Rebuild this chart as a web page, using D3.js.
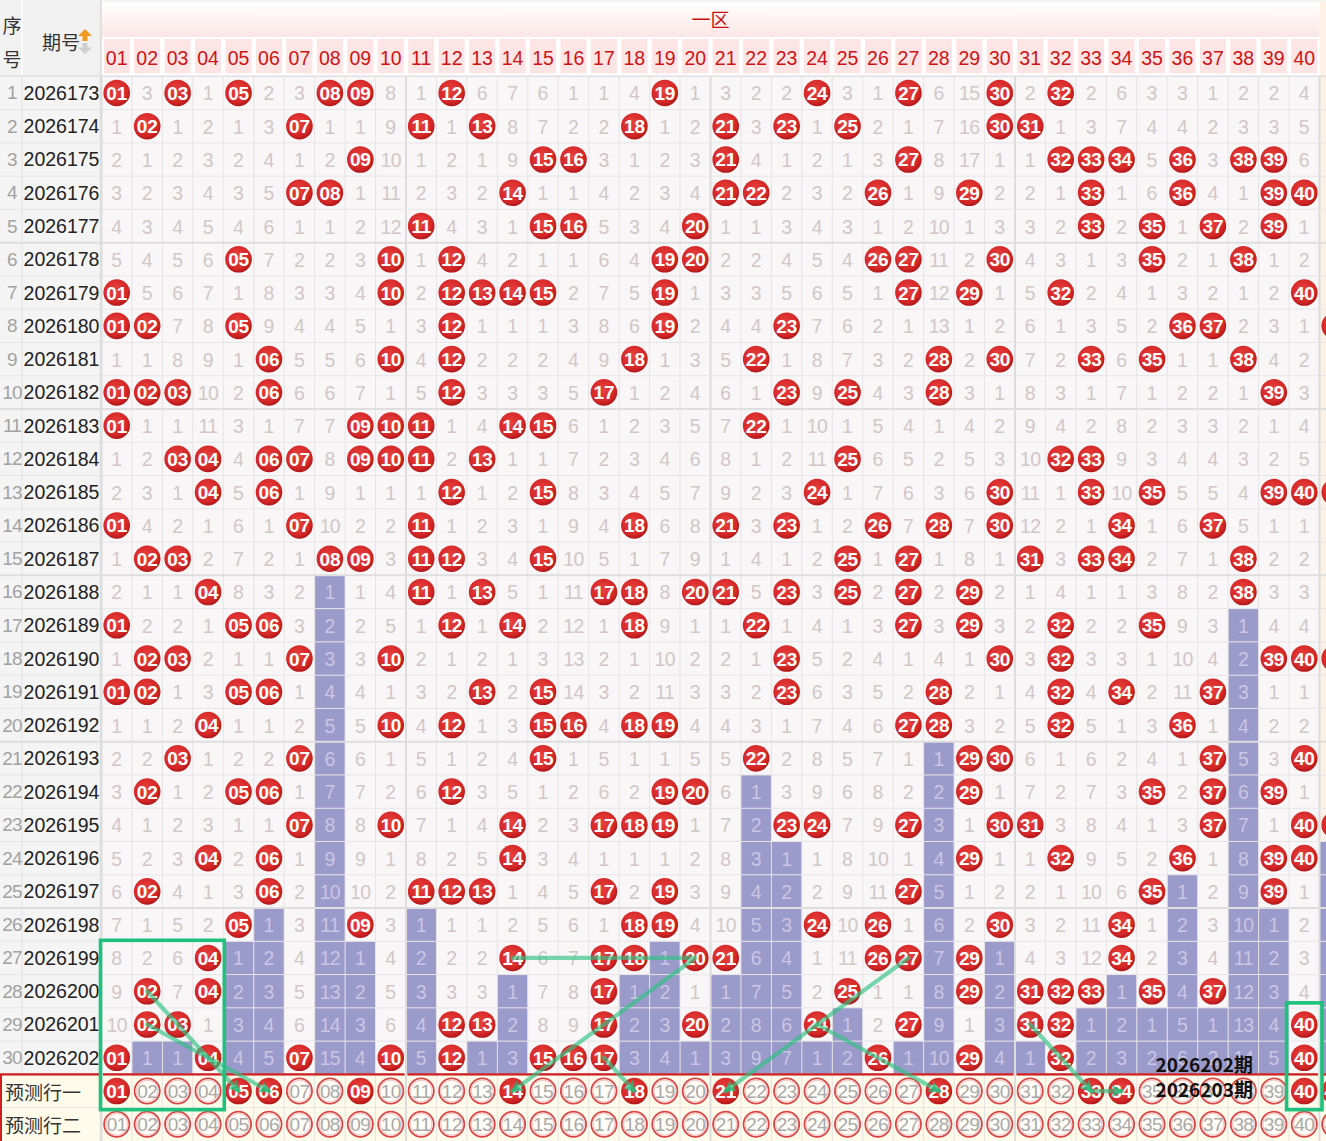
<!DOCTYPE html>
<html><head><meta charset="utf-8">
<script src="https://cdn.jsdelivr.net/npm/d3@7"></script>
<style>body{margin:0;background:#fff;overflow:hidden}svg{display:block}</style>
</head><body>
<svg id="chart" width="1326" height="1141"></svg>
<script>
// ---------------- DATA ----------------
const zoneTitle = "一区";
const numberLabels = d3.range(1, 41).map(n => String(n).padStart(2, "0"));
const periods = ["2026173","2026174","2026175","2026176","2026177","2026178","2026179","2026180","2026181","2026182",
  "2026183","2026184","2026185","2026186","2026187","2026188","2026189","2026190","2026191","2026192",
  "2026193","2026194","2026195","2026196","2026197","2026198","2026199","2026200","2026201","2026202"];
// numbers 01-40 drawn in each period
const draws = [
  [1,3,5,8,9,12,19,24,27,30,32],
  [2,7,11,13,18,21,23,25,30,31],
  [9,15,16,21,27,32,33,34,36,38,39],
  [7,8,14,21,22,26,29,33,36,39,40],
  [11,15,16,20,33,35,37,39],
  [5,10,12,19,20,26,27,30,35,38],
  [1,10,12,13,14,15,19,27,29,32,40],
  [1,2,5,12,19,23,36,37],
  [6,10,12,18,22,28,30,33,35,38],
  [1,2,3,6,12,17,23,25,28,39],
  [1,9,10,11,14,15,22],
  [3,4,6,7,9,10,11,13,25,32,33],
  [4,6,12,15,24,30,33,35,39,40],
  [1,7,11,18,21,23,26,28,30,34,37],
  [2,3,8,9,11,12,15,25,27,31,33,34,38],
  [4,11,13,17,18,20,21,23,25,27,29,38],
  [1,5,6,12,14,18,22,27,29,32,35],
  [2,3,7,10,23,30,32,39,40],
  [1,2,5,6,13,15,23,28,32,34,37],
  [4,10,12,15,16,18,19,27,28,32,36],
  [3,7,15,22,29,30,37,40],
  [2,5,6,12,19,20,29,35,37,39],
  [7,10,14,17,18,19,23,24,27,30,31,37,40],
  [4,6,14,29,32,36,39,40],
  [2,6,11,12,13,17,19,27,35,39],
  [5,9,18,19,24,26,30,34],
  [4,14,17,18,20,21,26,27,29,34],
  [2,4,17,25,29,31,32,33,35,37],
  [2,3,12,13,17,20,24,27,31,32,40],
  [1,4,7,10,12,15,16,17,26,29,32,40]
];
// omission counts shown in the first row (0 = drawn)
const firstRowOmission = [0,3,0,1,0,2,3,0,0,8,1,0,6,7,6,1,1,4,0,1,3,2,2,0,3,1,0,6,15,0,2,0,2,6,3,3,1,2,2,4];
const predictLabels = ["预测行一", "预测行二"];
const predictRow1 = [1,5,6,9,14,18,21,28,33,34,40];
// first column of the next zone (only a sliver is visible)
const nextZoneHitRows = [8,13,18,23];
const nextZonePredict = true;
// hand-drawn annotations: [column, row] (row 31 = 预测行一)
const noteBoxes = [
  {c0:1, c1:4, r0:27, r1:31, padX:1, padTop:1, padBot:2},
  {c0:40, c1:40, r0:29, r1:31, padX:2.5, padTop:5, padBot:2}
];
const noteLines = [
  [[2,28],[5,31]],
  [[2,29],[6,31]],
  [[14,27],[20,27],[14,31]],
  [[17,30],[18,31]],
  [[27,27],[21,31]],
  [[24,29],[28,31]],
  [[31,29],[33,31]],
  [[33,31],[34,31]]
];
const noteTexts = ["2026202期", "2026203期"];

// ---------------- DERIVED ----------------
const omission = [];
draws.forEach((d, i) => {
  omission.push(d3.range(1, 41).map((n, j) => d.includes(n) ? 0 : (i === 0 ? firstRowOmission[j] : omission[i-1][j] + 1)));
});
const lastHit = d3.range(1, 41).map(n => d3.max(draws.map((d, i) => d.includes(n) ? i : -1)));

// ---------------- SCALES ----------------
const W = 1326, H = 1141;
const x = d3.scaleBand().domain(d3.range(1, 42)).range([101.5, 101.5 + 41 * 30.45]);
const y = d3.scaleBand().domain(d3.range(1, 33)).range([76.3, 76.3 + 32 * 33.27]);
const bw = x.bandwidth(), bh = y.bandwidth();
const cx = c => x(c) + bw / 2, cy = r => y(r) + bh / 2;
const gridBottom = y(30) + bh;

const svg = d3.select("#chart");
const defs = svg.append("defs");
const rg = defs.append("radialGradient").attr("id", "ball").attr("cx", "45%").attr("cy", "40%").attr("r", "60%");
rg.append("stop").attr("offset", "0%").attr("stop-color", "#e8423f");
rg.append("stop").attr("offset", "75%").attr("stop-color", "#d52727");
rg.append("stop").attr("offset", "100%").attr("stop-color", "#b0171a");
const hg = defs.append("linearGradient").attr("id", "head").attr("x1", 0).attr("y1", 0).attr("x2", 0).attr("y2", 1);
hg.append("stop").attr("offset", "0%").attr("stop-color", "#ffffff");
hg.append("stop").attr("offset", "100%").attr("stop-color", "#fce6e6");
const mk = defs.append("marker").attr("id", "arrow").attr("markerUnits", "userSpaceOnUse")
  .attr("viewBox", "0 0 10 10").attr("refX", 8).attr("refY", 5).attr("markerWidth", 13).attr("markerHeight", 13).attr("orient", "auto");
mk.append("path").attr("d", "M0,0L10,5L0,10L3,5Z").attr("fill", "rgba(40,185,120,0.78)");

const NUMF = "'Liberation Sans', Arial, sans-serif";
const CJK = "'Noto Sans CJK SC', sans-serif";

svg.append("rect").attr("width", W).attr("height", H).attr("fill", "#fff");

// ---------- header ----------
svg.append("rect").attr("x", 0).attr("y", 0).attr("width", 100.5).attr("height", 76).attr("fill", "#f1f1f1");
svg.append("line").attr("x1", 22).attr("x2", 22).attr("y1", 0).attr("y2", gridBottom).attr("stroke", "#fff").attr("stroke-width", 1.5);
svg.append("text").attr("x", 12).attr("y", 24).attr("text-anchor", "middle").attr("dominant-baseline", "central")
  .attr("font-family", CJK).attr("font-size", 19).attr("fill", "#333").text("序");
svg.append("text").attr("x", 12).attr("y", 58).attr("text-anchor", "middle").attr("dominant-baseline", "central")
  .attr("font-family", CJK).attr("font-size", 19).attr("fill", "#333").text("号");
svg.append("text").attr("x", 61).attr("y", 41).attr("text-anchor", "middle").attr("dominant-baseline", "central")
  .attr("font-family", CJK).attr("font-size", 19).attr("fill", "#333").text("期号");
svg.append("path").attr("d", "M85,29L92,36L87.5,36L87.5,41L82.5,41L82.5,36L78,36Z").attr("fill", "#f39a1e");
svg.append("path").attr("d", "M82.5,43L87.5,43L87.5,47.5L92,47.5L85,54L78,47.5L82.5,47.5Z").attr("fill", "#cfcfcf");

svg.append("rect").attr("x", x(1)).attr("y", 1).attr("width", x(41) - x(1)).attr("height", 36).attr("fill", "url(#head)");
svg.append("line").attr("x1", x(1)).attr("x2", W).attr("y1", 1).attr("y2", 1).attr("stroke", "#e6e6e6");
svg.append("text").attr("x", (x(1) + x(41)) / 2).attr("y", 18).attr("text-anchor", "middle").attr("dominant-baseline", "central")
  .attr("font-family", CJK).attr("font-size", 19).attr("fill", "#c81010").text(zoneTitle);
svg.append("rect").attr("x", x(41)).attr("y", 1).attr("width", 20).attr("height", 75).attr("fill", "#fdf1e6");

svg.selectAll("rect.hb").data(numberLabels).join("rect").attr("class", "hb")
  .attr("x", (d, i) => x(i + 1) + 2.2).attr("y", 39).attr("width", bw - 4.4).attr("height", 34.5).attr("fill", "#fde5e5");
svg.selectAll("text.hl").data(numberLabels).join("text").attr("class", "hl")
  .attr("x", (d, i) => cx(i + 1)).attr("y", 57.5).attr("text-anchor", "middle").attr("dominant-baseline", "central")
  .attr("font-family", NUMF).attr("font-size", 19.5).attr("fill", "#cc1414").text(d => d);

// ---------- left columns ----------
svg.append("rect").attr("x", 0).attr("y", y(1)).attr("width", 100.5).attr("height", gridBottom - y(1)).attr("fill", "#f4f4f4");
svg.append("line").attr("x1", 22).attr("x2", 22).attr("y1", y(1)).attr("y2", gridBottom).attr("stroke", "#e2e2e2");
svg.selectAll("text.seq").data(periods).join("text").attr("class", "seq")
  .attr("x", 12).attr("y", (d, i) => cy(i + 1)).attr("text-anchor", "middle").attr("dominant-baseline", "central")
  .attr("font-family", NUMF).attr("font-size", 19).attr("fill", "#a2a2a2").attr("letter-spacing", -0.8).text((d, i) => i + 1);
svg.selectAll("text.per").data(periods).join("text").attr("class", "per")
  .attr("x", 61.5).attr("y", (d, i) => cy(i + 1)).attr("text-anchor", "middle").attr("dominant-baseline", "central")
  .attr("font-family", NUMF).attr("font-size", 19.5).attr("fill", "#222").text(d => d);

// ---------- cells ----------
const cells = [];
draws.forEach((d, i) => d3.range(1, 41).forEach((n, j) => cells.push({
  r: i + 1, c: n, hit: d.includes(n), v: omission[i][j], purple: i > lastHit[j]
})));
svg.selectAll("rect.cell").data(cells).join("rect").attr("class", "cell")
  .attr("x", d => x(d.c)).attr("y", d => y(d.r)).attr("width", bw).attr("height", bh)
  .attr("fill", d => d.purple ? "#9a9acb" : "#f8f6f7");

// next-zone sliver column
const nz = d3.range(1, 31).map(r => ({r, hit: nextZoneHitRows.includes(r), purple: r > d3.max(nextZoneHitRows)}));
svg.selectAll("rect.nz").data(nz).join("rect").attr("class", "nz")
  .attr("x", x(41)).attr("y", d => y(d.r)).attr("width", bw).attr("height", bh)
  .attr("fill", d => d.purple ? "#9a9acb" : "#fdf1e6");

// predict rows background
svg.append("rect").attr("x", 0).attr("y", y(31)).attr("width", W).attr("height", H - y(31)).attr("fill", "#fffbea");

// ---------- grid ----------
const g = svg.append("g");
d3.range(1, 42).forEach(c => {
  const thick = (c - 1) % 10 === 0;
  g.append("line").attr("x1", x(c)).attr("x2", x(c)).attr("y1", y(1)).attr("y2", H)
    .attr("stroke", thick ? "#dcdcdc" : "#e5e3e4").attr("stroke-width", thick ? 2 : 1);
});
d3.range(1, 33).forEach(r => {
  const thick = r > 1 && (r - 1) % 5 === 0 && r <= 31;
  g.append("line").attr("x1", 0).attr("x2", W).attr("y1", y(r)).attr("y2", y(r))
    .attr("stroke", thick ? "#dedede" : "#e6e4e5").attr("stroke-width", thick ? 2 : 1);
});
g.append("line").attr("x1", 0).attr("x2", W).attr("y1", y(1)).attr("y2", y(1)).attr("stroke", "#e0e0e0").attr("stroke-width", 1.5);
g.append("line").attr("x1", 100.8).attr("x2", 100.8).attr("y1", 0).attr("y2", H).attr("stroke", "#dedede").attr("stroke-width", 2);
d3.range(0, 4).forEach(k => {
  const xa = x(k * 10 + 1) + 1.5, xb = x(k * 10 + 11) - 1.5;
  g.append("line").attr("x1", xa).attr("x2", xb).attr("y1", y(31)).attr("y2", y(31)).attr("stroke", "#cf1f1f").attr("stroke-width", 2.2);
});
g.append("line").attr("x1", 0).attr("x2", 100).attr("y1", y(31)).attr("y2", y(31)).attr("stroke", "#cf1f1f").attr("stroke-width", 2.2);
g.append("line").attr("x1", x(41) + 1.5).attr("x2", W).attr("y1", y(31)).attr("y2", y(31)).attr("stroke", "#cf1f1f").attr("stroke-width", 2.2);
g.append("line").attr("x1", 1).attr("x2", 1).attr("y1", y(31)).attr("y2", H).attr("stroke", "#cf1f1f").attr("stroke-width", 2);

// ---------- omission numbers ----------
svg.selectAll("text.om").data(cells.filter(d => !d.hit)).join("text").attr("class", "om")
  .attr("x", d => cx(d.c)).attr("y", d => cy(d.r) + 0.5).attr("text-anchor", "middle").attr("dominant-baseline", "central")
  .attr("font-family", NUMF).attr("font-size", 19.5).attr("letter-spacing", d => d.v >= 10 ? -0.6 : 0)
  .attr("fill", d => d.purple ? "#cbc6e2" : "#d3c6c7").text(d => d.v);

// ---------- balls ----------
function ball(sel, data, fx, fy, label) {
  const b = sel.selectAll(null).data(data).join("g").attr("transform", d => `translate(${fx(d)},${fy(d)})`);
  b.append("circle").attr("r", 13.3).attr("fill", "url(#ball)");
  if (label) b.append("text").attr("text-anchor", "middle").attr("dominant-baseline", "central").attr("y", 0.5)
    .attr("font-family", NUMF).attr("font-weight", "bold").attr("font-size", 19).attr("letter-spacing", -0.2)
    .attr("fill", "#fff").text(label);
  return b;
}
ball(svg.append("g"), cells.filter(d => d.hit), d => cx(d.c), d => cy(d.r), d => numberLabels[d.c - 1]);
ball(svg.append("g"), nz.filter(d => d.hit), d => cx(41), d => cy(d.r), null);

// ---------- predict rows ----------
svg.selectAll("text.pl").data(predictLabels).join("text").attr("class", "pl")
  .attr("x", 5).attr("y", (d, i) => cy(31 + i)).attr("dominant-baseline", "central")
  .attr("font-family", CJK).attr("font-size", 19).attr("fill", "#333").text(d => d);
const pcells = [];
[31, 32].forEach(r => d3.range(1, 42).forEach(c => pcells.push({r, c, on: r === 31 && (c === 41 ? nextZonePredict : predictRow1.includes(c))})));
const ring = svg.append("g").selectAll("g").data(pcells.filter(d => !d.on)).join("g")
  .attr("transform", d => `translate(${cx(d.c)},${cy(d.r)})`);
ring.append("circle").attr("r", 12.6).attr("fill", "#fffdf6").attr("stroke", "#d94545").attr("stroke-width", 1.8);
ring.append("circle").attr("r", 10.9).attr("fill", "none").attr("stroke", "#f4caca").attr("stroke-width", 1.3);
ring.append("text").attr("text-anchor", "middle").attr("dominant-baseline", "central").attr("y", 0.5)
  .attr("font-family", NUMF).attr("font-size", 19).attr("letter-spacing", -0.6).attr("fill", "#a9a9a9")
  .text(d => d.c <= 40 ? numberLabels[d.c - 1] : "41");
ball(svg.append("g"), pcells.filter(d => d.on), d => cx(d.c), d => cy(d.r), d => d.c <= 40 ? numberLabels[d.c - 1] : "41");

// ---------- annotations ----------
const ann = svg.append("g");
const lineGen = d3.line().x(p => cx(p[0])).y(p => cy(p[1]));
noteLines.forEach(pts => {
  ann.append("path").attr("d", lineGen(pts)).attr("fill", "none")
    .attr("stroke", "rgba(50,195,130,0.66)").attr("stroke-width", 4.2).attr("stroke-linecap", "round").attr("stroke-linejoin", "round")
    .attr("marker-end", "url(#arrow)");
});
noteBoxes.forEach(b => {
  const x0 = x(b.c0) - b.padX, x1 = x(b.c1) + bw + b.padX;
  const y0 = y(b.r0) - b.padTop, y1 = y(b.r1) + bh + b.padBot;
  ann.append("rect").attr("x", x0).attr("y", y0).attr("width", x1 - x0).attr("height", y1 - y0)
    .attr("fill", "none").attr("stroke", "#1ec27c").attr("stroke-width", 3.6);
});
ann.selectAll("text.nt").data(noteTexts).join("text").attr("class", "nt")
  .attr("x", cx(36) - 27).attr("y", (d, i) => 1072 + i * 25)
  .attr("font-family", CJK).attr("font-weight", "bold").attr("font-size", 19).attr("fill", "#111").text(d => d);
</script>
</body></html>
